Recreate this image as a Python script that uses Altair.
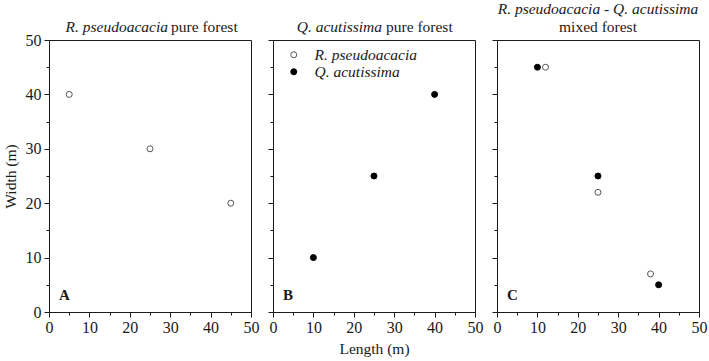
import altair as alt
import pandas as pd

# Tree positions (m) inside each 50 m x 50 m plot
rp_pure_length = [5, 25, 45]
rp_pure_width = [40, 30, 20]
qa_pure_length = [10, 25, 40]
qa_pure_width = [10, 25, 40]
rp_mixed_length = [12, 25, 38]
rp_mixed_width = [45, 22, 7]
qa_mixed_length = [10, 25, 40]
qa_mixed_width = [45, 25, 5]

species = ["R. pseudoacacia", "Q. acutissima"]
panel_letters = ["A", "B", "C"]
tick_values = list(range(0, 51, 5))

FONT = "Liberation Serif"
W, H = 202, 272
INK = "#1a1a1a"


def frame(length, width, sp):
    return pd.DataFrame({"length": length, "width": width, "species": [sp] * len(length)})


def tick_size(major, minor):
    return {"condition": {"test": "datum.value % 10 !== 0", "value": minor}, "value": major}


MAJOR_ONLY = "datum.value % 10 === 0 ? datum.label : ''"


def x_axis(title=None):
    kw = dict(
        values=tick_values, labelExpr=MAJOR_ONLY, tickSize=tick_size(5, 3),
        labelFlush=False, labelOverlap=False, grid=False,
        labelFont=FONT, labelFontSize=16, labelColor=INK, labelPadding=2,
        domainColor=INK, tickColor=INK,
    )
    if title:
        kw.update(title=title, titleFont=FONT, titleFontSize=15.5,
                  titleFontWeight="normal", titleColor=INK, titlePadding=6)
    else:
        kw.update(title=None)
    return alt.Axis(**kw)


def y_axis(show_labels, title=None):
    kw = dict(
        values=tick_values, labelExpr=MAJOR_ONLY, tickSize=tick_size(5, 3),
        labels=show_labels, labelOverlap=False, labelFlush=False, grid=False,
        labelFont=FONT, labelFontSize=16, labelColor=INK, labelPadding=3,
        domainColor=INK, tickColor=INK,
    )
    if title:
        kw.update(title=title, titleFont=FONT, titleFontSize=15.5,
                  titleFontWeight="normal", titleColor=INK, titlePadding=7)
    else:
        kw.update(title=None)
    return alt.Axis(**kw)


def legend_for(show):
    if not show:
        return None
    return alt.Legend(
        title=None, orient="none", legendX=13, legendY=7, padding=0,
        labelFont=FONT, labelFontSize=15.5, labelFontStyle="italic", labelColor=INK,
        symbolType="circle", symbolSize=36, symbolStrokeWidth=1,
        labelOffset=13, rowPadding=0,
    )


def text_layer(text, x, y, style="normal", weight="normal", align="left", size=15.5):
    return alt.Chart(pd.DataFrame({"t": [text]})).mark_text(
        font=FONT, fontSize=size, fontStyle=style, fontWeight=weight,
        align=align, baseline="alphabetic", color=INK,
    ).encode(text="t:N", x=alt.value(x), y=alt.value(y))


def panel(df, letter, title_layers, y_labels, x_title=None, legend=False):
    pts = alt.Chart(df).mark_point(filled=True, size=36, strokeWidth=1, opacity=1).encode(
        x=alt.X("length:Q", scale=alt.Scale(domain=[0, 50], nice=False), axis=x_axis(x_title)),
        y=alt.Y("width:Q", scale=alt.Scale(domain=[0, 50], nice=False),
                axis=y_axis(y_labels, "Width (m)" if y_labels else None)),
        fill=alt.Fill("species:N", scale=alt.Scale(domain=species, range=["white", "black"]),
                      legend=legend_for(legend)),
        stroke=alt.Stroke("species:N", scale=alt.Scale(domain=species, range=["#555555", "black"]),
                          legend=legend_for(legend)),
    )
    letter_mark = text_layer(letter, 10, 260, weight="bold", size=15)
    return alt.layer(pts, letter_mark, *title_layers).properties(width=W, height=H)


df_a = frame(rp_pure_length, rp_pure_width, species[0])
df_b = frame(qa_pure_length, qa_pure_width, species[1])
df_c = pd.concat([
    frame(rp_mixed_length, rp_mixed_width, species[0]),
    frame(qa_mixed_length, qa_mixed_width, species[1]),
], ignore_index=True)

panel_a = panel(
    df_a, panel_letters[0],
    [text_layer("R. pseudoacacia", 119, -8, style="italic", align="right"),
     text_layer("pure forest", 122, -8)],
    y_labels=True,
)
panel_b = panel(
    df_b, panel_letters[1],
    [text_layer("Q. acutissima", 109, -8, style="italic", align="right"),
     text_layer("pure forest", 113, -8)],
    y_labels=False, x_title="Length (m)", legend=True,
)
panel_c = panel(
    df_c, panel_letters[2],
    [text_layer("R. pseudoacacia - Q. acutissima", 101, -26, style="italic", align="center"),
     text_layer("mixed forest", 101, -8, align="center")],
    y_labels=False,
)

chart = alt.hconcat(panel_a, panel_b, panel_c, spacing=22, bounds="flush").resolve_scale(
    fill="independent", stroke="independent"
).properties(
    padding={"left": 2, "top": 1, "right": 1, "bottom": 0},
    background="white",
).configure_view(stroke=INK, strokeWidth=1)

chart.save("out.html", embed_options={"renderer": "svg", "actions": False})
